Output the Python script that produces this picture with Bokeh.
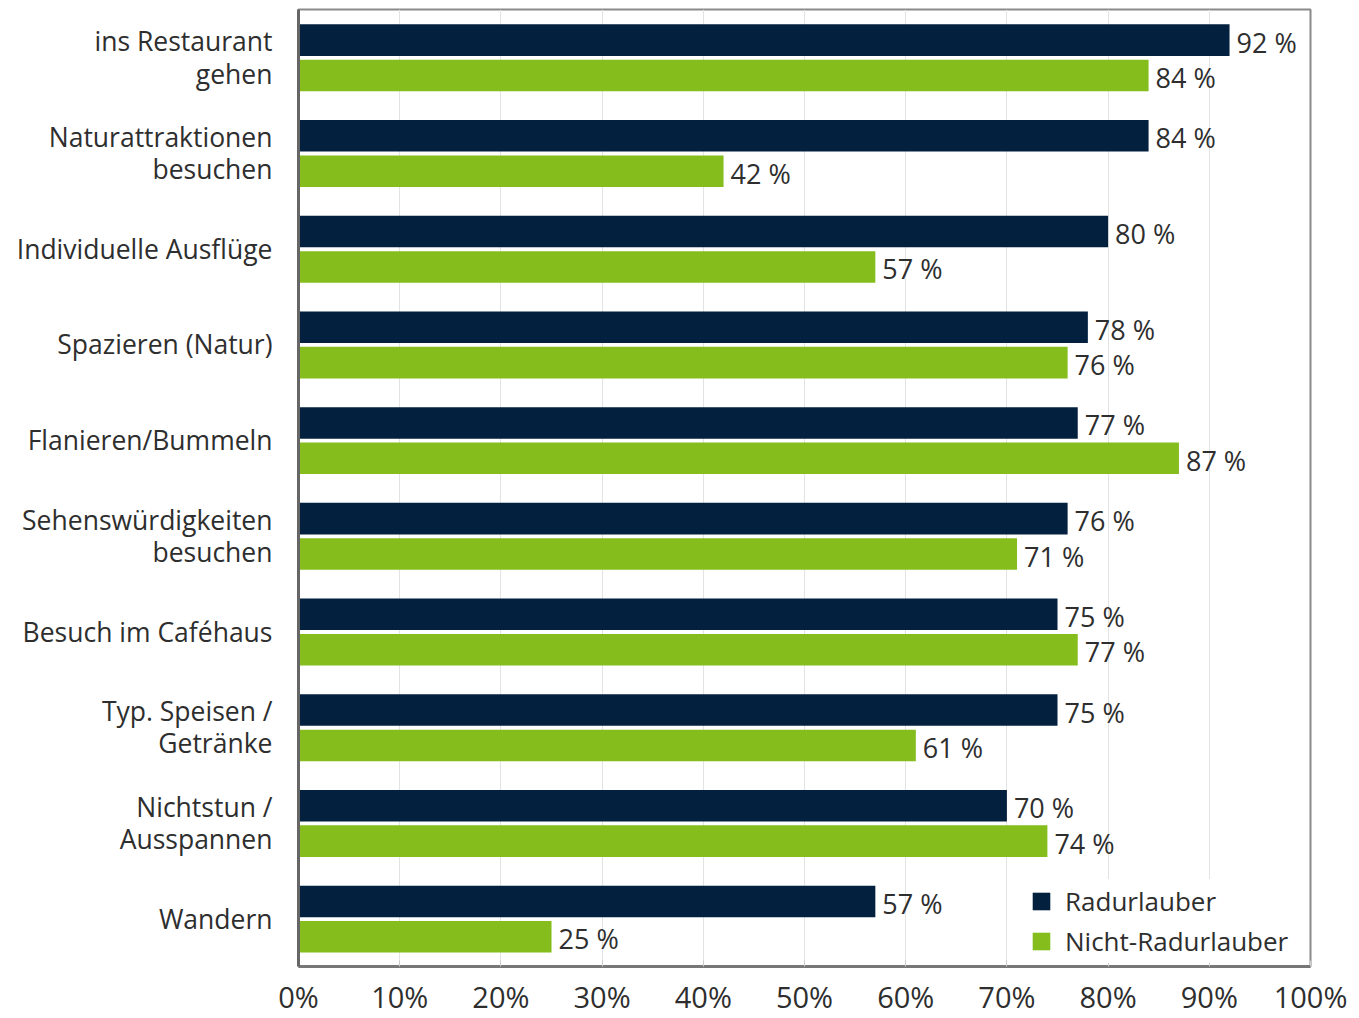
from bokeh.plotting import figure
from bokeh.models import ColumnDataSource, FactorRange, Range1d, Legend, LegendItem, FixedTicker, CustomJSTickFormatter
from bokeh.transform import dodge
from bokeh.embed import file_html
from bokeh.resources import INLINE
from bokeh.core.properties import value

categories = ["ins Restaurant\ngehen", "Naturattraktionen\nbesuchen", "Individuelle Ausflüge",
              "Spazieren (Natur)", "Flanieren/Bummeln", "Sehenswürdigkeiten\nbesuchen",
              "Besuch im Caféhaus", "Typ. Speisen /\nGetränke", "Nichtstun /\nAusspannen", "Wandern"]
radurlauber = [92, 84, 80, 78, 77, 76, 75, 75, 70, 57]
nicht_radurlauber = [84, 42, 57, 76, 87, 71, 77, 61, 74, 25]
x_ticks = [0, 10, 20, 30, 40, 50, 60, 70, 80, 90, 100]

DARK = "#03203f"
GREEN = "#84bd1c"
FONT = "Open Sans"
TXT = "#2e2e2e"

src = ColumnDataSource(dict(
    cat=categories,
    r=radurlauber,
    n=nicht_radurlauber,
    rl=[f"{v} %" for v in radurlauber],
    nl=[f"{v} %" for v in nicht_radurlauber],
))

p = figure(width=1359, height=1018, output_backend="svg", toolbar_location=None,
           y_range=FactorRange(*list(reversed(categories)), range_padding=0),
           x_range=Range1d(0, 100),
           min_border_left=298, min_border_right=49, min_border_top=9, min_border_bottom=51)

br = p.hbar(y=dodge("cat", 0.18, range=p.y_range), right="r", left=0, height=0.33,
            source=src, fill_color=DARK, line_color=None)
bn = p.hbar(y=dodge("cat", -0.19, range=p.y_range), right="n", left=0, height=0.33,
            source=src, fill_color=GREEN, line_color=None)

p.text(x="r", y=dodge("cat", 0.18, range=p.y_range), text="rl", source=src, x_offset=7, y_offset=2,
       text_baseline="middle", text_align="left", text_font=value(FONT),
       text_font_size="27px", text_color=TXT)
p.text(x="n", y=dodge("cat", -0.19, range=p.y_range), text="nl", source=src, x_offset=7, y_offset=2,
       text_baseline="middle", text_align="left", text_font=value(FONT),
       text_font_size="27px", text_color=TXT)

legend = Legend(items=[LegendItem(label="Radurlauber", renderers=[br]),
                       LegendItem(label="Nicht-Radurlauber", renderers=[bn])],
                location=(728, 3))
legend.label_text_font = FONT
legend.label_text_font_size = "26px"
legend.label_text_color = TXT
legend.glyph_width = 22
legend.glyph_height = 22
legend.label_height = 22
legend.spacing = 4
legend.label_standoff = 13
legend.padding = 4
legend.margin = 0
legend.border_line_alpha = 0
legend.background_fill_color = "white"
legend.background_fill_alpha = 1
p.add_layout(legend)

p.xaxis.ticker = FixedTicker(ticks=x_ticks)
p.xaxis.formatter = CustomJSTickFormatter(code="return tick + '%';")
p.xaxis.major_label_text_font = FONT
p.xaxis.major_label_text_font_size = "29px"
p.xaxis.major_label_text_color = TXT
p.xaxis.major_label_standoff = 10
p.xaxis.major_tick_in = 6
p.xaxis.major_tick_out = 0
p.xaxis.major_tick_line_color = "#cccccc"
p.xaxis.minor_tick_line_color = None
p.xaxis.axis_line_color = "#777777"
p.xaxis.axis_line_width = 3

p.yaxis.major_label_text_font = FONT
p.yaxis.major_label_text_font_size = "26.5px"
p.yaxis.major_label_text_color = TXT
p.yaxis.major_label_text_line_height = 0.9
p.yaxis.major_label_standoff = 20
p.yaxis.major_tick_line_color = None
p.yaxis.axis_line_color = "#666666"
p.yaxis.axis_line_width = 3

p.xgrid.grid_line_color = "#e3e3e3"
p.xgrid.grid_line_width = 1
p.ygrid.grid_line_color = None
p.outline_line_color = "#8a8a8a"
p.outline_line_width = 2

open("out.html", "w").write(file_html(p, INLINE))
